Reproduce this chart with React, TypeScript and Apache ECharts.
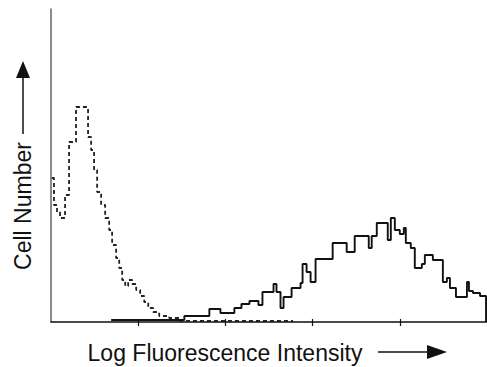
import React, { useEffect, useRef } from "react";
import * as echarts from "echarts";

// x: log fluorescence (decades, 0–5), y: cell number (relative counts)
const tickDecades = [1, 2, 3, 4];

// control histogram (dashed): bin start (decades) and count
const controlX = [0.011, 0.034, 0.069, 0.103, 0.161, 0.207, 0.287, 0.425, 0.46, 0.494, 0.529, 0.575, 0.621, 0.667, 0.701, 0.747, 0.782, 0.816, 0.851, 0.885, 0.931, 0.977, 1.023, 1.069, 1.115, 1.172, 1.241, 1.356, 1.471, 2.77];
const controlY = [144, 117, 110, 104, 127, 180, 215, 185, 172, 152, 130, 117, 104, 92, 77, 64, 54, 42, 36, 42, 38, 32, 26, 20, 14, 10, 6, 4, 1, 0];

// stained histogram (solid)
const stainedX = [0.69, 1.529, 1.816, 1.943, 2.103, 2.184, 2.276, 2.379, 2.425, 2.552, 2.586, 2.632, 2.667, 2.759, 2.862, 2.885, 2.931, 2.977, 3.034, 3.23, 3.391, 3.483, 3.644, 3.678, 3.736, 3.862, 3.897, 3.943, 4.0, 4.046, 4.069, 4.126, 4.172, 4.253, 4.287, 4.379, 4.494, 4.54, 4.575, 4.644, 4.77, 4.793, 4.839, 4.92, 4.989];
const stainedY = [2, 6, 13, 9, 14, 18, 21, 17, 30, 38, 30, 14, 25, 34, 39, 58, 50, 40, 63, 79, 70, 86, 74, 86, 99, 82, 104, 92, 88, 94, 79, 74, 54, 58, 67, 62, 40, 44, 34, 25, 40, 31, 29, 26, 0];

const xTitle = "Log Fluorescence Intensity";
const yTitle = "Cell Number";

export default function App() {
  const ref = useRef<HTMLDivElement>(null);
  useEffect(() => {
    if (!ref.current) return;
    const chart = echarts.init(ref.current, null, { renderer: "svg" });
    const font = '23px "Liberation Sans", Arial, Helvetica, sans-serif';
    chart.setOption({
      animation: false,
      backgroundColor: "#ffffff",
      grid: { left: 51, right: 0, top: 9, bottom: 45 },
      xAxis: [
        {
          type: "value",
          min: 0,
          max: 5,
          interval: 1,
          axisLine: { show: true, lineStyle: { color: "#111", width: 1.5 } },
          axisTick: { show: true, length: 4, customValues: tickDecades, lineStyle: { color: "#111", width: 1.2 } },
          axisLabel: { show: false },
          splitLine: { show: false },
        },
        {
          type: "value",
          min: 0,
          max: 5,
          interval: 1,
          position: "bottom",
          axisLine: { show: false },
          axisTick: { show: true, inside: true, length: 3, customValues: tickDecades, lineStyle: { color: "#111", width: 1.2 } },
          axisLabel: { show: false },
          splitLine: { show: false },
        },
      ],
      yAxis: {
        type: "value",
        min: 0,
        max: 313,
        axisLine: { show: true, lineStyle: { color: "#666", width: 1.5 } },
        axisTick: { show: false },
        axisLabel: { show: false },
        splitLine: { show: false },
      },
      series: [
        {
          type: "line",
          step: "end",
          symbol: "none",
          data: controlX.map((x, i) => [x, controlY[i]]),
          lineStyle: { color: "#222", width: 1.8, type: [4, 3] },
          z: 2,
        },
        {
          type: "line",
          step: "end",
          symbol: "none",
          data: stainedX.map((x, i) => [x, stainedY[i]]),
          lineStyle: { color: "#111", width: 1.9 },
          z: 3,
        },
      ],
      graphic: [
        {
          type: "text",
          x: 225,
          y: 353,
          style: { text: xTitle, font, fill: "#111", textAlign: "center", textVerticalAlign: "middle" },
        },
        { type: "line", shape: { x1: 378, y1: 352, x2: 430, y2: 352 }, style: { stroke: "#111", lineWidth: 1.5 } },
        { type: "polygon", shape: { points: [[427, 345], [427, 359], [447, 352]] }, style: { fill: "#111" } },
        {
          type: "text",
          x: 23,
          y: 206,
          rotation: Math.PI / 2,
          style: { text: yTitle, font, fill: "#111", textAlign: "center", textVerticalAlign: "middle" },
        },
        { type: "line", shape: { x1: 23, y1: 134, x2: 23, y2: 76 }, style: { stroke: "#111", lineWidth: 1.5 } },
        { type: "polygon", shape: { points: [[16, 78], [30, 78], [23, 61]] }, style: { fill: "#111" } },
      ],
    });
    return () => chart.dispose();
  }, []);
  return <div ref={ref} style={{ position: "fixed", left: 0, top: 0, width: 487, height: 367 }} />;
}
